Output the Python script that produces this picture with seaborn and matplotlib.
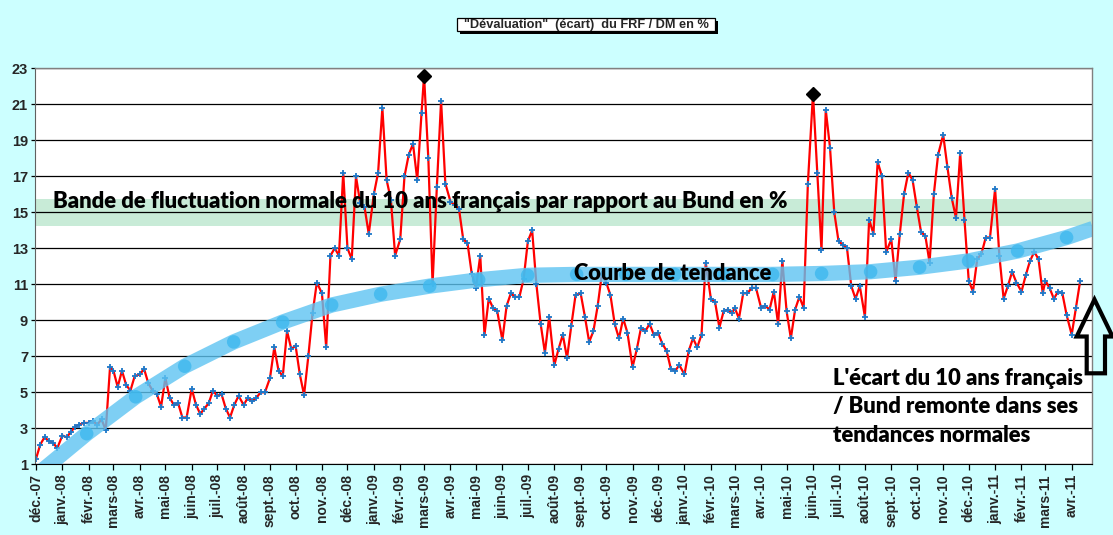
import matplotlib
matplotlib.use('Agg')
import numpy as np
import pandas as pd
import seaborn as sns
import matplotlib.pyplot as plt
from matplotlib.patches import Rectangle, Polygon

# ecart FRF / DM en %, read every 5 days (1, 6, 11, 16, 21, 26 of each month)
spread_2007 = [1.3, 2.1, 2.5, 2.3, 2.2, 1.9]
spread_2008 = [
    2.6, 2.5, 2.8, 3.1, 3.2, 3.3,        # janv
    3.3, 3.4, 3.2, 3.5, 2.9, 6.4,        # fevr
    6.2, 5.3, 6.2, 5.4, 5.1, 5.9,        # mars
    6.0, 6.3, 5.5, 5.1, 4.9, 4.2,        # avr
    5.8, 4.7, 4.3, 4.4, 3.6, 3.6,        # mai
    5.2, 4.3, 3.8, 4.1, 4.4, 5.1,        # juin
    4.8, 4.9, 4.1, 3.6, 4.3, 4.8,        # juil
    4.3, 4.7, 4.5, 4.7, 5.0, 5.0,        # aout
    5.8, 7.5, 6.2, 5.9, 8.4, 7.4,        # sept
    7.6, 6.0, 4.85, 7.0, 9.4, 11.1,      # oct
    10.5, 7.5, 12.6, 13.0, 12.6, 17.2,   # nov
    13.0, 12.4, 17.0, 15.5, 15.3, 13.8,  # dec
]
spread_2009 = [
    16.0, 17.2, 20.8, 16.8, 15.7, 12.6,
    13.5, 17.0, 18.2, 18.8, 16.8, 20.5,
    22.6, 18.0, 11.0, 16.4, 21.2, 16.6,
    15.6, 15.4, 15.2, 13.5, 13.3, 11.6,
    10.8, 12.6, 8.2, 10.2, 9.7, 9.5,
    7.9, 9.8, 10.5, 10.3, 10.3, 11.3,
    13.4, 14.0, 11.0, 8.8, 7.2, 9.2,
    6.5, 7.4, 8.2, 6.9, 8.7, 10.4,
    10.5, 9.2, 7.8, 8.4, 9.8, 11.6,
    11.1, 10.4, 8.8, 8.0, 9.1, 8.3,
    6.4, 7.4, 8.6, 8.4, 8.8, 8.2,
    8.3, 7.7, 7.3, 6.3, 6.2, 6.5,
]
spread_2010 = [
    6.0, 7.3, 8.0, 7.5, 8.2, 12.2,
    10.2, 10.0, 8.6, 9.5, 9.6, 9.4,
    9.7, 9.1, 10.5, 10.5, 10.8, 10.8,
    9.7, 9.8, 9.6, 10.6, 8.8, 12.3,
    9.5, 8.0, 9.6, 10.3, 9.7, 16.6,
    21.6, 17.2, 12.9, 20.7, 18.6, 15.0,
    13.4, 13.2, 13.0, 10.9, 10.2, 10.9,
    9.2, 14.6, 13.8, 17.8, 17.0, 12.8,
    13.5, 11.2, 13.8, 16.0, 17.2, 16.8,
    15.3, 13.9, 13.7, 12.2, 16.0, 18.2,
    19.3, 17.5, 15.8, 14.7, 18.3, 14.6,
    11.2, 10.6, 12.4, 12.7, 13.6, 13.6,
]
spread_2011 = [
    16.3, 12.6, 10.2, 10.9, 11.7, 11.1,
    10.6, 11.5, 12.3, 12.8, 12.4, 10.5,
    11.2, 10.8, 10.2, 10.6, 10.5, 9.3,
    8.2, 9.7, 11.2,
]
sample_days = [1, 6, 11, 16, 21, 26]

# courbe de tendance, read at its round markers
trend_values = [0.45, 2.7, 4.75, 6.45, 7.8, 8.9, 9.85, 10.45, 10.9, 11.25, 11.5,
                11.55, 11.55, 11.55, 11.55, 11.55, 11.6, 11.7, 11.95, 12.3,
                12.85, 13.6]
trend_end = 14.1

peak_dates = ['2009-03-01', '2010-06-01']

band_low, band_high = 14.25, 15.75

month_fr = ['janv.', 'févr.', 'mars', 'avr.', 'mai', 'juin', 'juil.', 'août',
            'sept.', 'oct.', 'nov.', 'déc.']

title = '"Dévaluation"  (écart)  du FRF / DM en %'
band_text = 'Bande de fluctuation normale du 10 ans français par rapport au Bund en %'
trend_text = 'Courbe de tendance'
note_lines = ["L'écart du 10 ans français", '/ Bund remonte dans ses',
              'tendances normales']

W, H = 1113, 535
BG = '#CCFFFF'


def sample_dates(year, month, n):
    out = []
    while len(out) < n:
        for d in sample_days:
            out.append(pd.Timestamp(year, month, d))
        month += 1
        if month > 12:
            month, year = 1, year + 1
    return out[:n]


def fpos(x, y):
    return x / W, 1 - y / H


def fit_width(fig, txt, target):
    fig.canvas.draw()
    w = txt.get_window_extent().width
    txt.set_fontsize(txt.get_fontsize() * target / w)


values = spread_2007 + spread_2008 + spread_2009 + spread_2010 + spread_2011
df = pd.DataFrame({'date': sample_dates(2007, 12, len(values)), 'ecart': values})

trend_dates = list(pd.date_range('2007-12-03', '2011-03-26', periods=len(trend_values)))
trend = pd.DataFrame({'date': trend_dates + [pd.Timestamp('2011-04-26')],
                      'val': trend_values + [trend_end]})
trend_marks = trend.iloc[1:len(trend_values)]

peaks = df[df['date'].isin(pd.to_datetime(peak_dates))]

sns.set_style('white')
plt.rcParams['font.family'] = ['Liberation Sans', 'DejaVu Sans']

fig = plt.figure(figsize=(W / 100, H / 100), dpi=100, facecolor=BG)
ax = fig.add_axes([35 / W, (H - 464.3) / H, 1056.7 / W, 396 / H])
ax.set_facecolor('white')

ax.axhspan(band_low, band_high, color='#C8EBD7', zorder=0.3, lw=0)

sns.lineplot(data=df, x='date', y='ecart', ax=ax, color='#FF0000', lw=1.6,
             marker='+', markersize=4, markeredgecolor='#1E78C8',
             markeredgewidth=1.3, estimator=None, sort=False, zorder=3)
ax.plot(peaks['date'], peaks['ecart'], ls='', marker='D', ms=7.5,
        color='black', zorder=4)

sns.lineplot(data=trend, x='date', y='val', ax=ax, color='#5EC4F2', lw=11,
             alpha=0.8, estimator=None, sort=False, zorder=4,
             solid_capstyle='butt')
sns.scatterplot(data=trend_marks, x='date', y='val', ax=ax, color='#3DB8EE',
                s=95, alpha=0.8, edgecolor='none', zorder=5)

ax.set_xlim(pd.Timestamp('2007-11-29 20:00'), pd.Timestamp('2011-04-24 12:00'))
ax.set_ylim(1, 23)
ax.set_yticks(range(1, 24, 2))
ax.set_axisbelow(True)
ax.yaxis.grid(True, color='black', lw=0.9)
ax.xaxis.grid(False)

month_starts = pd.date_range('2007-12-01', '2011-04-01', freq='MS')
ax.set_xticks(month_starts)
ax.set_xticklabels([f'{month_fr[d.month - 1]}-{d.year % 100:02d}' for d in month_starts],
                   rotation=90)
ax.tick_params(axis='x', direction='out', length=4, width=0.9, pad=3,
               bottom=True, color='black', labelsize=10)
ax.tick_params(axis='y', direction='out', length=3, width=0.9, pad=2,
               left=True, color='black', labelsize=10.5)
for lab in ax.get_xticklabels() + ax.get_yticklabels():
    lab.set_fontweight('bold')
    lab.set_family(['Liberation Sans', 'DejaVu Sans'])
ax.set_xlabel('')
ax.set_ylabel('')
for side in ['top', 'right']:
    ax.spines[side].set_color('#808080')
    ax.spines[side].set_linewidth(1)
ax.spines['left'].set_color('#606060')
ax.spines['bottom'].set_color('black')
for sp in ax.spines.values():
    sp.set_zorder(6)

# annotations
big = dict(family=['Lato', 'DejaVu Sans'], fontweight='heavy', color='black',
           zorder=7)
t1 = fig.text(*fpos(53, 208), band_text, fontsize=15, va='baseline', **big)
t2 = fig.text(*fpos(574, 280), trend_text, fontsize=15, va='baseline', **big)
notes = [fig.text(*fpos(833, y), s, fontsize=15, va='baseline', **big)
         for s, y in zip(note_lines, [385, 413, 441.5])]
fit_width(fig, t1, 742)
fit_width(fig, t2, 199)
fit_width(fig, notes[0], 251)
for n in notes[1:]:
    n.set_fontsize(notes[0].get_fontsize())

# title box with shadow
fig.add_artist(Rectangle(fpos(460.3, 34), 257.7 / W, 12.7 / H,
                         transform=fig.transFigure, facecolor='black',
                         edgecolor='none'))
fig.add_artist(Rectangle(fpos(457.3, 31), 257.7 / W, 12.7 / H,
                         transform=fig.transFigure, facecolor='white',
                         edgecolor='black', lw=0.9))
tt = fig.text(*fpos(586, 24.7), title, ha='center', va='center', fontsize=9,
              fontweight='bold')
fit_width(fig, tt, 247)

# hollow up arrow
arrow_px = [(1094.5, 299.5), (1112.5, 336.5), (1105, 336.5), (1105, 373.3),
            (1086.7, 373.3), (1086.7, 336.5), (1076.7, 336.5)]
fig.add_artist(Polygon([fpos(x, y) for x, y in arrow_px], closed=True,
                       transform=fig.transFigure, fill=False,
                       edgecolor='black', lw=3, joinstyle='miter'))

fig.savefig('out.png', dpi=100, facecolor=BG)
